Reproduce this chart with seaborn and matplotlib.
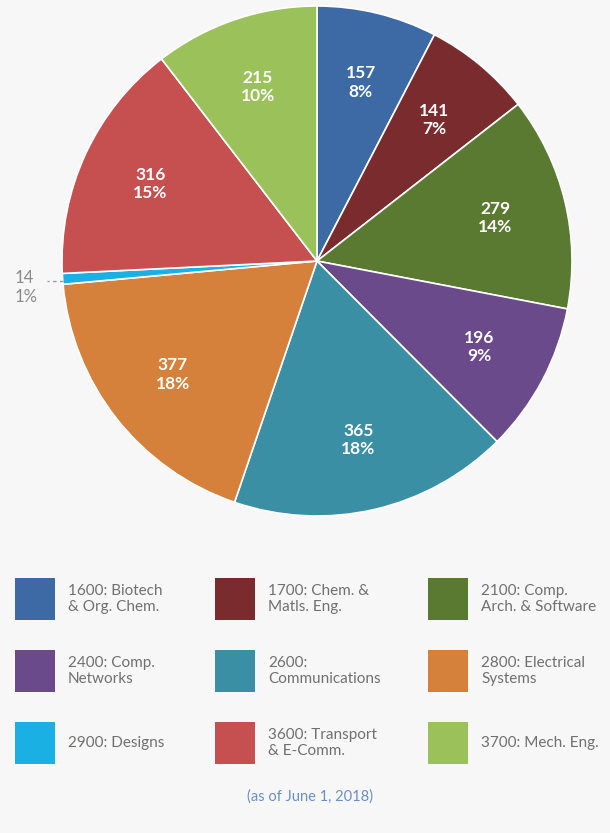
import numpy as np
import matplotlib
matplotlib.use("Agg")
import matplotlib.pyplot as plt
from matplotlib.patches import Rectangle
import seaborn as sns

# Patent application counts by technology center
codes = ["1600", "1700", "2100", "2400", "2600", "2800", "2900", "3600", "3700"]
names = ["1600: Biotech\n& Org. Chem.", "1700: Chem. &\nMatls. Eng.", "2100: Comp.\nArch. & Software",
         "2400: Comp.\nNetworks", "2600:\nCommunications", "2800: Electrical\nSystems",
         "2900: Designs", "3600: Transport\n& E-Comm.", "3700: Mech. Eng."]
counts = [157, 141, 279, 196, 365, 377, 14, 316, 215]
pct_labels = ["8%", "7%", "14%", "9%", "18%", "18%", "1%", "15%", "10%"]
colors = ["#3d6aa5", "#7a2b2e", "#5b7a31", "#6a4a8a", "#3a8fa5",
          "#d5803b", "#1ab0e3", "#c64f4f", "#9bc25a"]
footnote = "(as of June 1, 2018)"

sns.set_theme(style="white")
plt.rcParams["font.family"] = ["Lato", "DejaVu Sans"]
bg = "#f7f7f7"
palette = sns.color_palette(colors)

fig = plt.figure(figsize=(6.10, 8.33), dpi=100, facecolor=bg)
ax = fig.add_axes([62 / 610, (833 - 516) / 833, 510 / 610, 510 / 833])
ax.set_facecolor(bg)

wedges, _ = ax.pie(counts, colors=palette, startangle=90, counterclock=False,
                   radius=1.0, wedgeprops=dict(edgecolor="white", linewidth=1.2))
ax.set_xlim(-1, 1)
ax.set_ylim(-1, 1)
ax.set_aspect("equal")
ax.axis("off")

for w, n, p in zip(wedges, counts, pct_labels):
    mid = np.deg2rad((w.theta1 + w.theta2) / 2)
    if n < 50:
        # small slice: label outside with a dashed leader
        cx, cy = np.cos(mid), np.sin(mid)
        ax.plot([cx * 1.0, cx * 1.06], [cy - 0.01, cy - 0.01], ls=(0, (2.5, 2.5)),
                color="#9a9a9a", lw=1.0, clip_on=False)
        ax.text(cx * 1.19, cy - 0.035, f"{n}\n{p}", ha="left", va="center",
                color="#8a8a8a", fontsize=12, linespacing=1.2)
    else:
        r = 0.72
        ax.text(r * np.cos(mid), r * np.sin(mid), f"{n}\n{p}", ha="center", va="center",
                color="white", fontsize=12.5, fontweight="bold", linespacing=1.2)

# legend grid, three per row
col_x = [15, 215, 428]
row_y = [578, 650, 722]
sq_w, sq_h = 40, 42
for i, (label, c) in enumerate(zip(names, palette)):
    r, k = divmod(i, 3)
    x0, y0 = col_x[k], row_y[r]
    fig.add_artist(Rectangle((x0 / 610, 1 - (y0 + sq_h) / 833), sq_w / 610, sq_h / 833,
                             transform=fig.transFigure, facecolor=c, edgecolor="none"))
    fig.text((x0 + 53) / 610, 1 - (y0 + sq_h / 2) / 833, label, ha="left", va="center",
             color="#707070", fontsize=11, linespacing=1.25)

fig.text(310 / 610, 1 - 797 / 833, footnote, ha="center", va="center",
         color="#6a8fc8", fontsize=10.5)

fig.savefig("out.png", dpi=100, facecolor=bg)
